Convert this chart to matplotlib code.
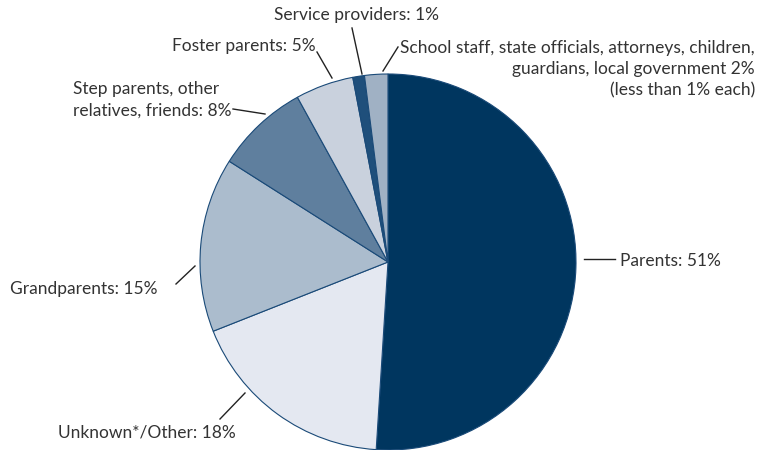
import matplotlib
matplotlib.use("Agg")
import matplotlib.pyplot as plt

plt.rcParams['font.family'] = ['Lato', 'DejaVu Sans']

# 数据：各类别占比（%）
categories = ['Parents', 'Unknown*/Other', 'Grandparents',
              'Step parents, other relatives, friends', 'Foster parents',
              'Service providers', 'School staff, state officials, ...']
shares = [51, 18, 15, 8, 5, 1, 2]
labels = ['Parents: 51%',
          'Unknown*/Other: 18%',
          'Grandparents: 15%',
          'Step parents, other\nrelatives, friends: 8%',
          'Foster parents: 5%',
          'Service providers: 1%',
          'School staff, state officials, attorneys, children,\n'
          'guardians, local government 2%\n(less than 1% each)']
colors = ['#00365f', '#e4e8f1', '#abbccd', '#5f7f9e', '#c9d1dd', '#1f4f7b', '#a0b1c4']

W, H = 760, 450
cx, cy, r = 388, 262, 188

fig = plt.figure(figsize=(7.6, 4.5), dpi=100)
ax = fig.add_axes([(cx - r) / W, (H - cy - r) / H, 2 * r / W, 2 * r / H])
ax.pie(shares, colors=colors, startangle=90, counterclock=False, radius=1,
       wedgeprops=dict(edgecolor='#1a4a78', linewidth=0.8))
ax.set_xlim(-1, 1)
ax.set_ylim(-1, 1)
ax.set_aspect('equal')
ax.axis('off')


def px(x, y):
    # 像素坐标 -> 数据坐标
    return (x - cx) / r, (cy - y) / r


# 引线（像素位置）和标签位置
leaders = [
    ((584, 259), (615, 259)),
    ((245, 393), (220, 419)),
    ((195, 266), (176, 284)),
    ((265, 114), (233, 109)),
    ((332, 78), (317, 52)),
    ((362, 74), (352, 28)),
    ((383, 71), (398, 47)),
]
texts = [
    (620, 261, 'left', 'center'),
    (147, 433, 'center', 'center'),
    (157, 289, 'right', 'center'),
    (73, 100, 'left', 'center'),
    (316, 46, 'right', 'center'),
    (357, 15, 'center', 'center'),
    (755, 69, 'right', 'center'),
]

for (p0, p1), (tx, ty, ha, va), lab in zip(leaders, texts, labels):
    x0, y0 = px(*p0)
    x1, y1 = px(*p1)
    ax.plot([x0, x1], [y0, y1], color='#222222', linewidth=1.0, clip_on=False)
    x, y = px(tx, ty)
    ax.text(x, y, lab, ha=ha, va=va, multialignment=ha if ha != 'center' else 'center',
            fontsize=12.5, color='#333333', linespacing=1.4, clip_on=False)

fig.savefig('out.png', dpi=100)
